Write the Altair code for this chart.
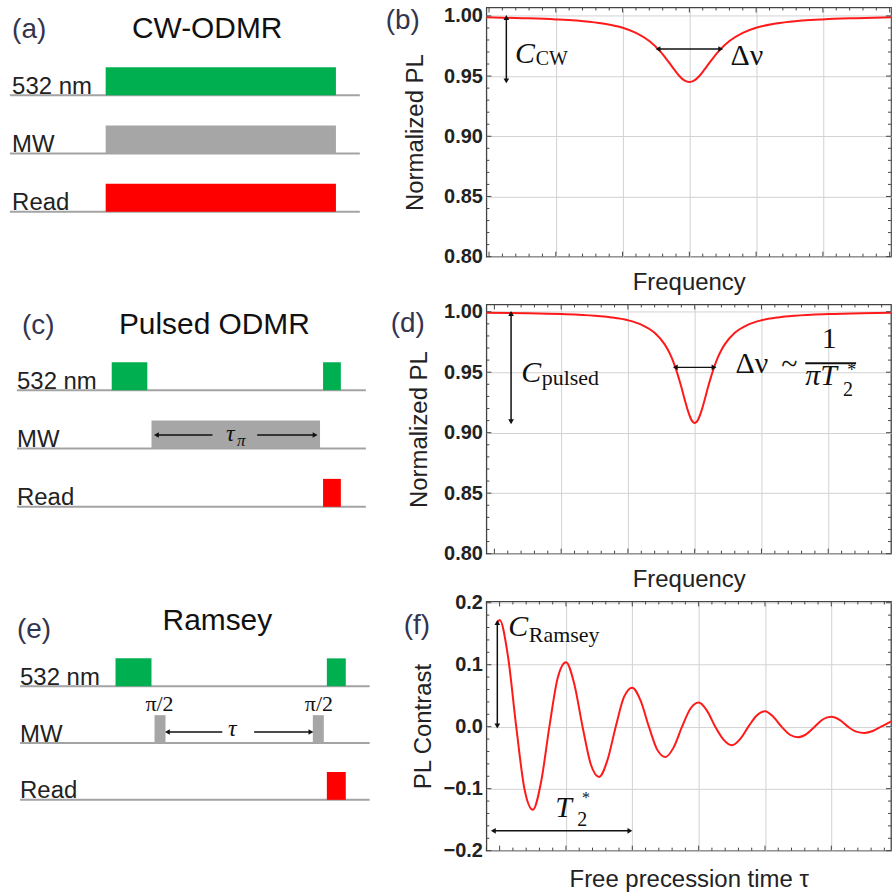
import altair as alt
import numpy as np
import pandas as pd

SANS = "Liberation Sans"
SERIF = "Liberation Serif"
INK = "#222222"
FRAME = "#444444"
TAG = "#34344f"
RED = "#ff1a1a"
GRID = "#d2d2d2"

# ---------------- data ----------------
# (b) CW-ODMR spectrum
b_freq = [-3.04, -2.5, -2.0, -1.5, -1.25, -1.0, -0.8, -0.6, -0.45, -0.375, -0.3, -0.225, -0.15, -0.075, 0.0,
          0.075, 0.15, 0.225, 0.3, 0.375, 0.45, 0.6, 0.8, 1.0, 1.25, 1.5, 2.0, 2.5, 3.02]
b_pl = [0.9988, 0.9981, 0.9971, 0.9951, 0.9932, 0.9901, 0.9859, 0.9791, 0.9713, 0.9664, 0.9609, 0.9553, 0.9501, 0.9464, 0.9450,
        0.9464, 0.9501, 0.9553, 0.9609, 0.9664, 0.9713, 0.9791, 0.9859, 0.9901, 0.9932, 0.9951, 0.9971, 0.9981, 0.9988]

# (d) pulsed ODMR spectrum
d_freq = [-3.12, -2.5, -2.0, -1.5, -1.25, -1.0, -0.8, -0.6, -0.45, -0.4, -0.35, -0.29, -0.25, -0.2, -0.15, -0.1, -0.05, 0.0,
          0.05, 0.1, 0.15, 0.2, 0.25, 0.29, 0.35, 0.4, 0.45, 0.6, 0.8, 1.0, 1.25, 1.5, 2.0, 2.5, 2.94]
d_pl = [0.9992, 0.9988, 0.9981, 0.9967, 0.9953, 0.9929, 0.9893, 0.9826, 0.9730, 0.9683, 0.9626, 0.9540, 0.9472, 0.9377,
        0.9274, 0.9178, 0.9107, 0.9080,
        0.9107, 0.9178, 0.9274, 0.9377, 0.9472, 0.9540, 0.9626, 0.9683, 0.9730, 0.9826, 0.9893, 0.9929, 0.9953, 0.9967,
        0.9981, 0.9988, 0.9991]

# (f) Ramsey fringes
f_tau = [-0.035, 0.0, 0.125, 0.25, 0.375, 0.5, 0.625, 0.75, 0.875, 1.0, 1.125, 1.25, 1.375, 1.5, 1.625, 1.75, 1.875,
         2.0, 2.125, 2.25, 2.375, 2.5, 2.625, 2.75, 2.875, 3.0, 3.125, 3.25, 3.375, 3.5, 3.625, 3.75, 3.875,
         4.0, 4.125, 4.25, 4.375, 4.5, 4.625, 4.75, 4.875, 5.0, 5.125, 5.25, 5.375, 5.5, 5.625, 5.75, 5.875, 5.9]
f_contrast = [0.168, 0.172, 0.114, 0.000, -0.101, -0.134, -0.089, 0.000, 0.0785, 0.104, 0.069, 0.000, -0.061, -0.081,
              -0.054, 0.000, 0.048, 0.063, 0.042, 0.000, -0.037, -0.049, -0.033, 0.000, 0.029, 0.039, 0.026, 0.000,
              -0.021, -0.030, -0.020, 0.000, 0.018, 0.025, 0.016, 0.000, -0.013, -0.017, -0.012, 0.000, 0.012, 0.016,
              0.011, 0.000, -0.008, -0.010, -0.007, 0.000, 0.007, 0.0085]

pl_ticks = [0.80, 0.85, 0.90, 0.95, 1.00]
contrast_ticks = [-0.2, -0.1, 0.0, 0.1, 0.2]
freq_grid = [-2, -1, 0, 1, 2, 3]
freq_major = [-3, -2, -1, 0, 1, 2, 3]
tau_grid = [1, 2, 3, 4, 5]
tau_major = [0, 1, 2, 3, 4, 5]

# pulse sequences (time in arbitrary units 0-100)
lanes = ["532 nm", "MW", "Read"]
lane_colors = ["#00b050", "#a6a6a6", "#ff0000"]

a_base = [(2.6, 95.0), (2.6, 95.0), (2.6, 95.0)]
a_lane = [0, 1, 2]
a_start = [27.9, 27.9, 27.9]
a_end = [88.7, 88.7, 88.7]

c_base = [(4.5, 96.6), (4.5, 96.6), (4.5, 96.6)]
c_lane = [0, 0, 1, 2]
c_start = [29.5, 85.3, 40.0, 85.3]
c_end = [38.9, 90.0, 84.5, 90.0]

e_base = [(5.3, 97.6), (5.3, 97.6), (5.3, 97.6)]
e_lane = [0, 0, 1, 1, 2]
e_start = [30.5, 86.3, 40.8, 82.6, 86.3]
e_end = [40.0, 91.3, 43.7, 85.5, 91.3]

# annotations: (text, x, y, size, style, align, baseline)
b_notes = [("C", -2.61, 0.9606, 30, "italic", "left", "alphabetic"),
           ("CW", -2.30, 0.9596, 20, "normal", "left", "alphabetic"),
           ("Δν", 0.617, 0.959, 30, "normal", "left", "alphabetic")]
b_arrows = [(-2.741, 0.9987, -2.741, 0.946), (-0.47, 0.9725, 0.47, 0.9725)]

d_notes = [("C", -2.598, 0.9417, 30, "italic", "left", "alphabetic"),
           ("pulsed", -2.29, 0.9395, 22, "normal", "left", "alphabetic"),
           ("Δν", 0.611, 0.9491, 30, "normal", "left", "alphabetic"),
           ("~", 1.417, 0.9557, 30, "normal", "center", "middle"),
           ("1", 2.014, 0.9697, 30, "normal", "center", "alphabetic"),
           ("πT", 1.656, 0.9393, 30, "italic", "left", "alphabetic"),
           ("2", 2.22, 0.9302, 20, "normal", "left", "alphabetic"),
           ("*", 2.35, 0.9510, 18, "normal", "center", "middle")]
d_arrows = [(-2.75, 0.9985, -2.75, 0.909), (-0.29, 0.954, 0.29, 0.954)]
d_bar = (1.656, 2.417, 0.9574)

f_notes = [("C", 0.131, 0.1457, 30, "italic", "left", "alphabetic"),
           ("Ramsey", 0.44, 0.1370, 22, "normal", "left", "alphabetic"),
           ("T", 0.837, -0.1453, 30, "italic", "left", "alphabetic"),
           ("2", 1.17, -0.1598, 20, "normal", "left", "alphabetic"),
           ("*", 1.30, -0.1150, 16, "normal", "center", "middle")]
f_arrows = [(-0.035, 0.168, -0.035, 0.001), (-0.095, -0.168, 1.963, -0.168)]

c_notes = [("τ", 59.7, -0.872, 24, "italic", "left", "alphabetic"),
           ("π", 62.6, -0.957, 17, "italic", "left", "alphabetic")]
c_arrows = [(56.1, -0.769, 41.3, -0.769, False), (67.9, -0.769, 83.2, -0.769, False)]
e_notes = [("τ", 61.3, -0.877, 24, "italic", "center", "alphabetic"),
           ("π/2", 42.1, -0.307, 22, "normal", "center", "middle"),
           ("π/2", 84.2, -0.307, 22, "normal", "center", "middle")]
e_arrows = [(58.7, -0.807, 44.2, -0.807, False), (67.1, -0.807, 82.1, -0.807, False)]

PW, PH = 406, 250   # plot panels
DW, DH = 380, 250   # diagram panels


def head_shape(x0, y0, x1, y1):
    if y0 == y1:
        return "triangle-right" if x1 > x0 else "triangle-left"
    return "triangle-up" if y1 > y0 else "triangle-down"


def arrow_layers(arrows, EX, EY):
    rows, heads = [], []
    for a in arrows:
        x0, y0, x1, y1 = a[:4]
        double = a[4] if len(a) > 4 else True
        rows.append({"x": x0, "y": y0, "x2": x1, "y2": y1})
        heads.append({"x": x1, "y": y1, "shape": head_shape(x0, y0, x1, y1)})
        if double:
            heads.append({"x": x0, "y": y0, "shape": head_shape(x1, y1, x0, y0)})
    shaft = alt.Chart(pd.DataFrame(rows)).mark_rule(color="#111111", strokeWidth=1.5).encode(
        x=EX("x"), x2="x2:Q", y=EY("y"), y2="y2:Q")
    hd = alt.Chart(pd.DataFrame(heads)).mark_point(filled=True, color="#111111", size=32, opacity=1, strokeWidth=0).encode(
        x=EX("x"), y=EY("y"), shape=alt.Shape("shape:N", scale=None))
    return [shaft, hd]


def note_layers(notes, EX, EY):
    out = []
    for (s, x, y, size, style, align, baseline) in notes:
        out.append(alt.Chart(pd.DataFrame({"s": [s], "x": [x], "y": [y]})).mark_text(
            font=SERIF, fontSize=size, fontStyle=style, align=align, baseline=baseline, color="#111111"
        ).encode(x=EX("x"), y=EY("y"), text="s:N"))
    return out


def tag_layer(tag, tx, ty, size=28):
    return alt.Chart(pd.DataFrame({"s": [tag]})).mark_text(
        font=SANS, fontSize=size, align="left", baseline="middle", color=TAG
    ).encode(x=alt.value(tx), y=alt.value(ty), text="s:N")


def tick_values(lo, hi, step, majors):
    k0 = int(np.ceil(lo / step - 1e-9))
    k1 = int(np.floor(hi / step + 1e-9))
    vals = [round(k * step, 6) for k in range(k0, k1 + 1)]
    return [v for v in vals if all(abs(v - m) > 1e-6 for m in majors)]


def frame_ticks(vals, axis, length, EX, EY):
    base = alt.Chart(pd.DataFrame({"v": vals})).mark_rule(color=FRAME, strokeWidth=1)
    if axis == "x":
        return [base.encode(x=EX("v"), y=alt.value(PH), y2=alt.value(PH - length)),
                base.encode(x=EX("v"), y=alt.value(0), y2=alt.value(length))]
    return [base.encode(y=EY("v"), x=alt.value(0), x2=alt.value(length)),
            base.encode(y=EY("v"), x=alt.value(PW), x2=alt.value(PW - length))]


def plot_panel(cx, cy, xdom, ydom, xgrid, xmajor, xstep, yvals, ystep, yfmt, ytitle, xtitle,
               ytp, xtp, tag, tag_xy, notes, arrows, bar=None):
    xs = alt.Scale(domain=xdom, nice=False, zero=False)
    ys = alt.Scale(domain=ydom, nice=False, zero=False)
    xax = alt.Axis(values=xgrid, grid=True, gridColor=GRID, gridWidth=1, labels=False, ticks=False, domain=False,
                   title=xtitle, titleFont=SANS, titleFontSize=24, titleFontWeight="normal", titleColor=INK,
                   titlePadding=xtp)
    yax = alt.Axis(values=yvals, format=yfmt, grid=True, gridColor=GRID, gridWidth=1, ticks=False, domain=False,
                   labelFont=SANS, labelFontSize=20, labelFontWeight="bold", labelColor=INK, labelPadding=4,
                   title=ytitle, titleFont=SANS, titleFontSize=24, titleFontWeight="normal", titleColor=INK,
                   titlePadding=ytp)

    def EX(f):
        return alt.X(f + ":Q", scale=xs, axis=xax)

    def EY(f):
        return alt.Y(f + ":Q", scale=ys, axis=yax)

    df = pd.DataFrame({"x": cx, "y": cy})
    curve = alt.Chart(df).mark_line(color=RED, strokeWidth=2, interpolate="monotone").encode(x=EX("x"), y=EY("y"))
    layers = [curve]
    xmaj = [v for v in xmajor if xdom[0] <= v <= xdom[1]]
    layers += frame_ticks(xmaj, "x", 5, EX, EY)
    layers += frame_ticks(tick_values(xdom[0], xdom[1], xstep, xmaj), "x", 3, EX, EY)
    layers += frame_ticks(yvals, "y", 5, EX, EY)
    layers += frame_ticks(tick_values(ydom[0], ydom[1], ystep, yvals), "y", 3, EX, EY)
    layers += arrow_layers(arrows, EX, EY)
    if bar is not None:
        layers.append(alt.Chart(pd.DataFrame({"x": [bar[0]], "x2": [bar[1]], "y": [bar[2]]})).mark_rule(
            color="#111111", strokeWidth=2).encode(x=EX("x"), x2="x2:Q", y=EY("y")))
    layers += note_layers(notes, EX, EY)
    layers.append(tag_layer(tag, tag_xy[0], tag_xy[1]))
    return alt.layer(*layers).properties(
        width=PW, height=PH, view=alt.ViewConfig(stroke=FRAME, strokeWidth=1.3))


def diagram(tag, tag_pos, title, title_pos, label_x, base, lane, start, end, pulse_h,
            lane_top, lane_sp, notes=(), arrows=()):
    xs = alt.Scale(domain=[0, 100], nice=False, zero=False)
    ys = alt.Scale(domain=[-(DH - lane_top) / lane_sp, lane_top / lane_sp], nice=False, zero=False)

    def EX(f):
        return alt.X(f + ":Q", scale=xs, axis=None)

    def EY(f):
        return alt.Y(f + ":Q", scale=ys, axis=None)

    bdf = pd.DataFrame({"lvl": [0, -1, -2], "x0": [b[0] for b in base], "x1": [b[1] for b in base],
                        "name": lanes, "lx": [label_x] * 3, "ly": [0.026, -0.974, -1.974]})
    pdf = pd.DataFrame({"lvl": [-l for l in lane], "top": [-l + pulse_h for l in lane],
                        "x0": start, "x1": end, "col": [lane_colors[l] for l in lane]})
    lines = alt.Chart(bdf).mark_rule(color="#a3a3a3", strokeWidth=2).encode(x=EX("x0"), x2="x1:Q", y=EY("lvl"))
    pulses = alt.Chart(pdf).mark_rect().encode(
        x=EX("x0"), x2="x1:Q", y=EY("lvl"), y2="top:Q", color=alt.Color("col:N", scale=None))
    labels = alt.Chart(bdf).mark_text(font=SANS, fontSize=24, align="left", baseline="alphabetic", color=INK).encode(
        x=EX("lx"), y=EY("ly"), text="name:N")
    tdf = pd.DataFrame({"s": [tag, title], "x": [tag_pos[0], title_pos[0]], "y": [tag_pos[1], title_pos[1]]})
    tag_t = alt.Chart(tdf.iloc[[0]]).mark_text(font=SANS, fontSize=28, align="left", baseline="middle", color=TAG).encode(
        x=EX("x"), y=EY("y"), text="s:N")
    title_t = alt.Chart(tdf.iloc[[1]]).mark_text(font=SANS, fontSize=30, align="center", baseline="middle",
                                                 color="#111111").encode(x=EX("x"), y=EY("y"), text="s:N")
    layers = [lines, pulses, labels, tag_t, title_t]
    if arrows:
        layers += arrow_layers(arrows, EX, EY)
    if notes:
        layers += note_layers(notes, EX, EY)
    return alt.layer(*layers).properties(width=DW, height=DH)


panel_a = diagram("(a)", (3.2, 1.111), "CW-ODMR", (54.7, 1.137), 3.2, a_base, a_lane, a_start, a_end,
                  0.479, 88, 58.5)
panel_c = diagram("(c)", (5.8, 1.094), "Pulsed ODMR", (56.6, 1.111), 4.5, c_base, c_lane, c_start, c_end,
                  0.479, 86, 58.5, c_notes, c_arrows)
panel_e = diagram("(e)", (4.5, 0.982), "Ramsey", (57.4, 1.14), 5.3, e_base, e_lane, e_start, e_end,
                  0.49, 85, 57, e_notes, e_arrows)

panel_b = plot_panel(b_freq, b_pl, [-3.04, 3.02], [0.80, 1.007], freq_grid, freq_major, 0.2,
                     pl_ticks, 0.01, ".2f", "Normalized PL", "Frequency", 16, 14,
                     "(b)", (-101, 14), b_notes, b_arrows)
panel_d = plot_panel(d_freq, d_pl, [-3.12, 2.94], [0.80, 1.006], freq_grid, freq_major, 0.2,
                     pl_ticks, 0.01, ".2f", "Normalized PL", "Frequency", 12, 14,
                     "(d)", (-96, 20), d_notes, d_arrows, d_bar)
panel_f = plot_panel(f_tau, f_contrast, [-0.2, 5.9], [-0.2, 0.202], tau_grid, tau_major, 0.2,
                     contrast_ticks, 0.02, ".1f", "PL Contrast", "Free precession time τ", 8, 17,
                     "(f)", (-83, 25), f_notes, f_arrows)

chart = alt.concat(panel_a, panel_b, panel_c, panel_d, panel_e, panel_f,
                   columns=2, spacing={"row": 48, "column": 108}, bounds="flush", align="each").properties(
    padding={"left": 0, "top": 3, "right": 0, "bottom": 0}, background="white"
).configure_view(stroke=None)

chart.save("out.html", embed_options={"renderer": "svg", "actions": False})
